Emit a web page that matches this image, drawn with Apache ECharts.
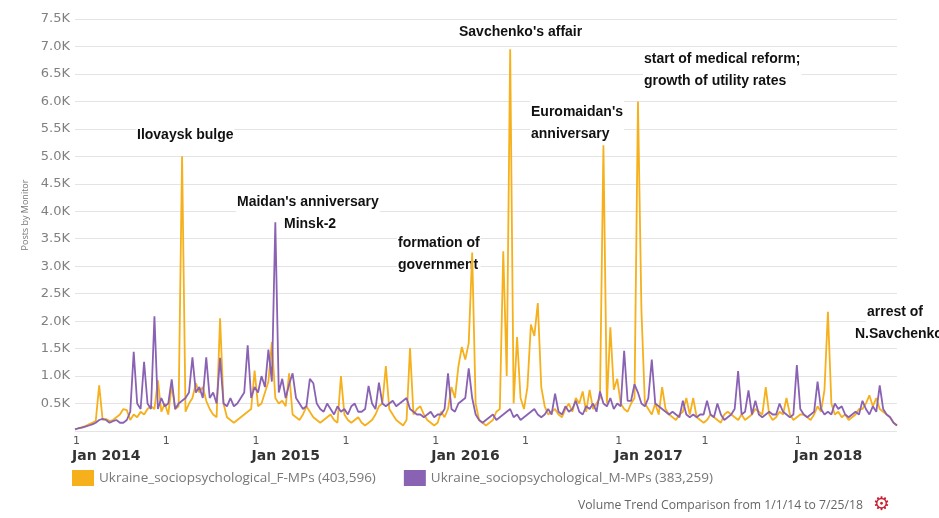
<!DOCTYPE html>
<html>
<head>
<meta charset="utf-8">
<script src="https://cdn.jsdelivr.net/npm/echarts@6/dist/echarts.min.js"></script>
<style>
html,body{margin:0;padding:0;background:#fff;}
#chart{width:939px;height:518px;}
</style>
</head>
<body>
<div id="chart"></div>
<script>
// Weekly samples from 2014-01-01 to 2018-07-25 (values in thousands of posts)
const stepDays = 7;

const seriesNames = [
  'Ukraine_sociopsychological_F-MPs (403,596)',
  'Ukraine_sociopsychological_M-MPs (383,259)'
];

const fPostsK = [
  0.03,0.05,0.07,0.09,0.12,0.15,0.18,0.83,0.2,0.22,
  0.18,0.2,0.25,0.3,0.4,0.38,0.2,0.3,0.25,0.35,
  0.3,0.4,0.45,0.4,0.92,0.35,0.5,0.3,0.83,0.4,
  0.45,5.0,0.35,0.5,0.6,0.87,0.7,0.8,0.55,0.4,
  0.3,0.25,2.05,0.5,0.25,0.2,0.15,0.2,0.25,0.3,
  0.35,0.4,1.1,0.45,0.5,0.7,0.9,1.62,0.6,0.5,
  0.55,0.45,1.05,0.3,0.25,0.2,0.3,0.45,0.35,0.25,
  0.2,0.15,0.2,0.25,0.3,0.2,0.15,1.0,0.3,0.2,
  0.15,0.2,0.25,0.15,0.1,0.15,0.2,0.3,0.45,0.5,
  1.18,0.4,0.3,0.2,0.15,0.1,0.2,1.51,0.3,0.4,
  0.45,0.3,0.2,0.15,0.1,0.15,0.35,0.25,0.4,0.8,
  0.6,1.17,1.53,1.3,1.6,3.25,0.5,0.2,0.15,0.1,
  0.15,0.2,0.35,0.4,3.27,1.0,6.95,0.5,1.71,0.6,
  0.4,0.8,1.94,1.73,2.33,0.8,0.45,0.3,0.35,0.4,
  0.3,0.25,0.4,0.5,0.35,0.6,0.5,0.72,0.35,0.75,
  0.4,0.5,0.6,5.2,0.5,1.89,0.75,0.95,0.5,0.4,
  0.35,0.5,0.6,6.0,2.2,0.5,0.4,0.3,0.5,0.3,
  0.8,0.4,0.3,0.25,0.2,0.3,0.35,0.6,0.3,0.6,
  0.25,0.2,0.15,0.2,0.3,0.25,0.2,0.15,0.3,0.35,
  0.3,0.25,0.2,0.3,0.2,0.25,0.3,0.4,0.35,0.3,
  0.8,0.3,0.2,0.25,0.35,0.3,0.6,0.3,0.2,0.25,
  0.3,0.3,0.25,0.2,0.3,0.45,0.35,0.75,2.17,0.5,
  0.3,0.35,0.25,0.3,0.2,0.25,0.3,0.4,0.4,0.5,
  0.65,0.45,0.6,0.4,0.35,0.3,0.25,0.15,0.1
];

const mPostsK = [
  0.03,0.05,0.06,0.08,0.1,0.12,0.15,0.2,0.22,0.2,
  0.15,0.18,0.2,0.15,0.15,0.2,0.35,1.44,0.5,0.4,
  1.26,0.5,0.4,2.09,0.4,0.6,0.45,0.5,0.94,0.4,
  0.5,0.55,0.6,0.7,1.34,0.7,0.8,0.6,1.34,0.6,
  0.7,0.5,1.33,0.5,0.45,0.6,0.45,0.5,0.6,0.7,
  1.56,0.6,0.8,0.7,1.0,0.8,1.48,0.9,3.8,0.7,
  0.95,0.6,0.85,1.05,0.6,0.5,0.4,0.45,0.95,0.87,
  0.5,0.4,0.35,0.5,0.4,0.3,0.45,0.35,0.4,0.3,
  0.45,0.5,0.35,0.35,0.4,0.82,0.5,0.4,0.88,0.5,
  0.45,0.5,0.55,0.45,0.5,0.55,0.6,0.4,0.35,0.3,
  0.3,0.25,0.3,0.35,0.25,0.3,0.3,0.4,1.05,0.4,
  0.35,0.5,0.55,0.6,1.14,0.6,0.3,0.2,0.15,0.2,
  0.25,0.3,0.2,0.25,0.3,0.35,0.4,0.25,0.3,0.2,
  0.25,0.3,0.35,0.4,0.3,0.25,0.3,0.4,0.3,0.68,
  0.35,0.3,0.45,0.35,0.4,0.55,0.35,0.3,0.45,0.4,
  0.5,0.35,0.72,0.5,0.45,0.6,0.4,0.5,0.45,1.46,
  0.55,0.55,0.85,0.7,0.5,0.45,0.6,1.3,0.5,0.45,
  0.4,0.35,0.3,0.35,0.3,0.25,0.55,0.3,0.25,0.3,
  0.25,0.3,0.3,0.55,0.3,0.25,0.5,0.3,0.2,0.25,
  0.3,0.4,1.09,0.3,0.35,0.74,0.3,0.55,0.3,0.25,
  0.3,0.35,0.3,0.3,0.5,0.35,0.3,0.25,0.3,1.2,
  0.4,0.3,0.25,0.3,0.35,0.9,0.4,0.3,0.35,0.3,
  0.5,0.4,0.45,0.3,0.25,0.3,0.35,0.3,0.55,0.4,
  0.3,0.45,0.35,0.83,0.4,0.3,0.25,0.15,0.1
];

const annotations = [
  { text: 'Ilovaysk bulge', x: 136, y: 124 },
  { text: "Maidan's anniversary", x: 236, y: 191 },
  { text: 'Minsk-2', x: 283, y: 213 },
  { text: 'formation of\ngovernment', x: 397, y: 232 },
  { text: "Savchenko's affair", x: 458, y: 21 },
  { text: "Euromaidan's\nanniversary", x: 530, y: 101 },
  { text: 'start of medical reform;\ngrowth of utility rates', x: 643, y: 48 },
  { text: 'arrest of', x: 866, y: 301 },
  { text: 'N.Savchenko', x: 854, y: 323 }
];

const yAxisTitle = 'Posts by Monitor';
const footerText = 'Volume Trend Comparison from 1/1/14 to 7/25/18';
const monthNames = ['Jan','Feb','Mar','Apr','May','Jun','Jul','Aug','Sep','Oct','Nov','Dec'];
const lastLabelledDate = Date.UTC(2018, 0, 1);

// build weekly date categories
const dayMs = 86400000;
const t0 = Date.UTC(2014, 0, 1);
const dates = fPostsK.map((_, i) => new Date(t0 + i * stepDays * dayMs));
const categories = dates.map(d => d.toISOString().slice(0, 10));

function nearHalfYear(d) {
  const y = d.getUTCFullYear();
  const cands = [Date.UTC(y,0,1), Date.UTC(y,6,1), Date.UTC(y+1,0,1)];
  for (const c of cands) {
    const diff = d.getTime() - c;
    if (diff > -3.5 * dayMs && diff <= 3.5 * dayMs && c <= lastLabelledDate) return new Date(c);
  }
  return null;
}

const chart = echarts.init(document.getElementById('chart'), null, { renderer: 'canvas' });

const annoFont = "'Liberation Sans', Arial, sans-serif";

const option = {
  backgroundColor: '#ffffff',
  animation: false,
  grid: { left: 75, right: 42, top: 19, bottom: 87 },
  legend: {
    left: 72, top: 470, padding: 0,
    itemWidth: 22, itemHeight: 16, itemGap: 28,
    icon: 'rect',
    textStyle: { color: '#777', fontSize: 13.5, fontFamily: "'Open Sans', sans-serif" },
    data: seriesNames
  },
  xAxis: {
    type: 'category',
    data: categories,
    boundaryGap: false,
    axisLine: { show: false },
    axisTick: { show: false },
    splitLine: { show: false },
    axisLabel: {
      margin: 3,
      align: 'left',
      interval: function (index) { return nearHalfYear(dates[index]) !== null; },
      formatter: function (value, index) {
        const h = nearHalfYear(dates[index]);
        if (!h) return '';
        if (h.getUTCMonth() === 0) {
          return '{d|1}\n{y|' + monthNames[0] + ' ' + h.getUTCFullYear() + '}';
        }
        return '{d|1}';
      },
      rich: {
        d: { color: '#555', fontSize: 11, fontFamily: 'DejaVu Sans', lineHeight: 14, padding: [0, 0, 0, -2] },
        y: { color: '#333', fontSize: 14, fontWeight: 'bold', fontFamily: 'DejaVu Sans', lineHeight: 17, padding: [0, 0, 0, -3] }
      }
    }
  },
  yAxis: {
    type: 'value',
    min: 0, max: 7.5, interval: 0.5,
    axisLine: { show: false },
    axisTick: { show: false },
    axisLabel: {
      color: '#808080', fontSize: 13, fontFamily: 'DejaVu Sans', margin: 5,
      formatter: function (v) { return v === 0 ? '' : v.toFixed(1) + 'K'; }
    },
    splitLine: { lineStyle: { color: '#e4e4e4', width: 1 } }
  },
  series: [
    {
      name: seriesNames[0], type: 'line', data: fPostsK, z: 3,
      showSymbol: false, symbol: 'none',
      lineStyle: { color: '#F6B01C', width: 1.8 },
      itemStyle: { color: '#F6B01C' }
    },
    {
      name: seriesNames[1], type: 'line', data: mPostsK, z: 3,
      showSymbol: false, symbol: 'none',
      lineStyle: { color: '#8A62B3', width: 1.8 },
      itemStyle: { color: '#8A62B3' }
    }
  ],
  graphic: annotations.map(a => ({
    type: 'text', left: a.x, top: a.y, z: 1,
    style: {
      text: a.text, fill: '#111', font: 'bold 14px ' + annoFont,
      lineHeight: 22, backgroundColor: '#fff', padding: [0, 1, 0, 1]
    }
  })).concat([
    {
      type: 'text', x: 25, y: 215, rotation: Math.PI / 2, z: 1,
      style: { text: yAxisTitle, fill: '#777', font: "9px 'Open Sans', sans-serif", align: 'center', verticalAlign: 'middle' }
    },
    {
      type: 'text', left: 578, top: 500, z: 1,
      style: { text: footerText, fill: '#666', font: "12.2px 'Open Sans', sans-serif" }
    },
    {
      type: 'text', left: 873, top: 496, z: 1,
      style: { text: '\u2699', fill: '#c8202f', font: "bold 19px 'DejaVu Sans'" }
    }
  ])
};

chart.setOption(option);
</script>
</body>
</html>
